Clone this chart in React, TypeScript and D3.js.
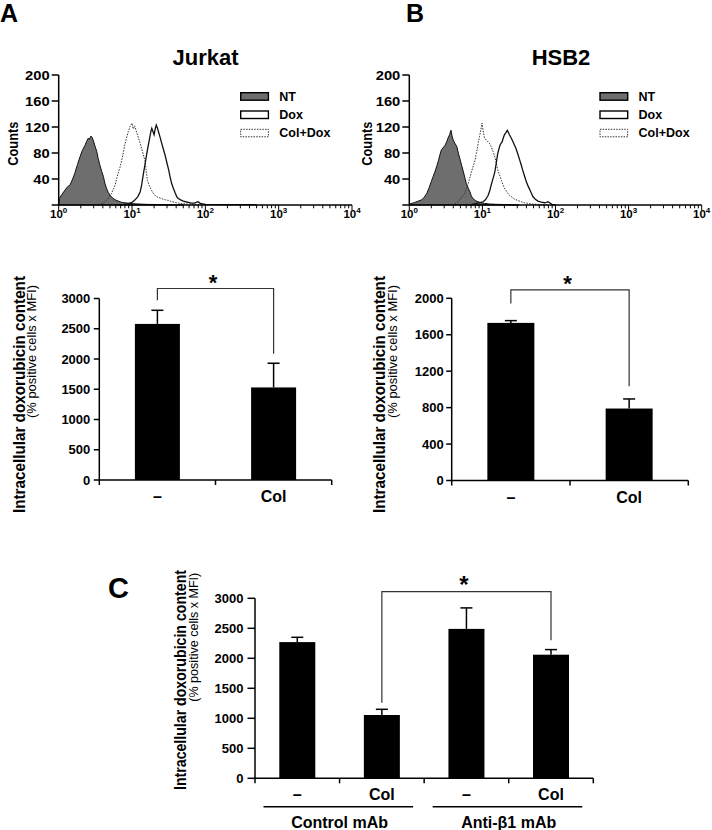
import React from "react";
import * as d3 from "d3";

const FONT = "'Liberation Sans', Arial, Helvetica, sans-serif";

type Pt = [number, number];

// ---------- Flow cytometry histograms: [fluorescence intensity, counts] ----------
const jurkatNT: Pt[] = [
  [1.0, 0], [1.02, 10], [1.1, 16], [1.22, 23], [1.32, 28], [1.43, 31], [1.55, 40], [1.66, 49],
  [1.8, 62], [1.95, 74], [2.1, 84], [2.29, 92], [2.4, 98], [2.54, 103], [2.62, 101],
  [2.75, 106], [2.85, 104], [2.95, 100], [3.1, 92], [3.31, 82], [3.45, 72], [3.63, 62],
  [3.85, 52], [4.07, 44], [4.25, 34], [4.47, 26], [4.75, 19], [5.01, 15], [5.4, 11],
  [5.89, 8], [6.5, 6], [7.24, 4], [8.5, 3], [10, 2], [12.5, 1.5], [15.8, 1], [31.6, 0.5], [50, 0],
];
const jurkatColDox: Pt[] = [
  [3.47, 0.5], [3.9, 2], [4.27, 5], [4.8, 11], [5.25, 18], [5.6, 25], [5.89, 31], [6.46, 49],
  [6.85, 58], [7.24, 69], [7.6, 80], [7.94, 92], [8.4, 103], [8.91, 113], [9.4, 121],
  [10, 126], [10.2, 120], [10.5, 117], [10.75, 122], [11.0, 120], [11.6, 111], [12.3, 103],
  [12.9, 95], [13.5, 87], [14.3, 77], [15.1, 67], [15.6, 52], [16.2, 38], [17.0, 31],
  [17.8, 26], [19.0, 20], [20.4, 15], [22.5, 12], [25.1, 10], [28.2, 8], [31.6, 7],
  [35.0, 5], [38.9, 4], [43.0, 3], [47.9, 2], [58.0, 1.5], [70.8, 1], [100, 0.5], [110, 0],
];
const jurkatDox: Pt[] = [
  [6.31, 0.5], [7.8, 1], [8.91, 2], [10.0, 4], [11.0, 8], [12.0, 13], [12.9, 20], [13.5, 30],
  [14.1, 44], [14.9, 60], [15.8, 77], [16.6, 91], [17.4, 103], [18.0, 112], [18.6, 118],
  [19.3, 113], [20.0, 108], [20.7, 117], [21.4, 123], [22.1, 119], [22.9, 113], [23.9, 106],
  [25.1, 97], [26.6, 87], [28.2, 77], [29.9, 65], [31.6, 54], [33.1, 43], [34.7, 33],
  [36.8, 25], [38.9, 18], [40.7, 13], [42.7, 10], [46.0, 8], [50.1, 6], [54.0, 5],
  [58.9, 4], [64.0, 3], [70.8, 3], [75.0, 4], [79.4, 5], [84.0, 3], [89.1, 2], [100, 1],
  [200, 0.5], [479, 0.5], [500, 0],
];

const hsb2NT: Pt[] = [
  [1.0, 0], [1.02, 1.5], [1.19, 4], [1.33, 6], [1.48, 8], [1.6, 12], [1.74, 18], [1.87, 27],
  [2.0, 36], [2.12, 44], [2.24, 51], [2.38, 60], [2.51, 69], [2.62, 77], [2.75, 85],
  [2.9, 88], [3.09, 92], [3.24, 97], [3.39, 103], [3.55, 108], [3.72, 115], [3.85, 106],
  [3.98, 100], [4.2, 95], [4.47, 90], [4.68, 80], [4.9, 72], [5.2, 61], [5.5, 51],
  [5.75, 42], [6.03, 33], [6.4, 26], [6.76, 20], [7.05, 14], [7.41, 10], [8.0, 7],
  [8.71, 5], [9.6, 3.5], [10.7, 2.5], [12.5, 1.5], [15.8, 1], [25.1, 0.5], [31.6, 0],
];
const hsb2ColDox: Pt[] = [
  [4.17, 1.5], [4.5, 4], [4.9, 8], [5.3, 13], [5.75, 18], [6.0, 24], [6.31, 31], [6.7, 41],
  [7.08, 51], [7.5, 60], [7.94, 69], [8.2, 78], [8.51, 87], [8.8, 96], [9.12, 105],
  [9.5, 115], [9.89, 126], [10.3, 112], [10.7, 103], [11.3, 100], [12.0, 97], [12.6, 94],
  [13.2, 90], [14.0, 82], [14.8, 74], [15.5, 64], [16.2, 54], [17.2, 46], [18.2, 38],
  [19.0, 32], [20.0, 26], [21.6, 20], [23.4, 15], [25.4, 12], [27.5, 9], [30.5, 7],
  [33.9, 5], [37.5, 3.5], [41.7, 2.5], [48.0, 1.5], [56.2, 1], [79.4, 0],
];
const hsb2Dox: Pt[] = [
  [7.08, 0.5], [8.32, 2.5], [9.2, 3.5], [10.2, 5], [11.0, 8], [12.0, 15], [12.6, 22],
  [13.2, 31], [14.0, 41], [14.8, 51], [15.5, 65], [16.2, 79], [16.8, 86], [17.4, 92],
  [18.0, 95], [18.6, 97], [19.3, 103], [20.0, 108], [20.9, 111], [21.9, 115], [22.6, 112],
  [23.4, 108], [24.8, 103], [26.3, 97], [27.5, 92], [28.8, 87], [30.6, 78], [32.4, 69],
  [33.9, 62], [35.5, 54], [37.6, 45], [39.8, 36], [42.2, 29], [44.7, 23], [46.8, 18],
  [49.0, 13], [53.0, 9], [57.5, 6], [64.0, 4.5], [70.8, 3.5], [75.0, 4], [79.4, 5],
  [84.0, 3], [89.1, 1], [100, 0],
];

const histYTicks = [0, 40, 80, 120, 160, 200];
const histXDecades = [1, 10, 100, 1000, 10000];
const histXExponents = ["0", "1", "2", "3", "4"];
const legendLabels = ["NT", "Dox", "Col+Dox"];

// ---------- Bar charts ----------
const abCategories = ["–", "Col"];
const jurkatBarValues = [2580, 1530];
const jurkatBarErrors = [225, 400];
const jurkatTicks = [0, 500, 1000, 1500, 2000, 2500, 3000];

const hsb2BarValues = [1730, 790];
const hsb2BarErrors = [25, 105];
const hsb2Ticks = [0, 400, 800, 1200, 1600, 2000];

const cCategories = ["–", "Col", "–", "Col"];
const cBarValues = [2270, 1055, 2490, 2060];
const cBarErrors = [80, 95, 350, 85];
const cTicks = [0, 500, 1000, 1500, 2000, 2500, 3000];
const cGroups = ["Control mAb", "Anti-β1 mAb"];

const yLabelMain = "Intracellular doxorubicin content";
const yLabelSub = "(% positive cells x MFI)";

type HistProps = {
  left: number; right: number; top: number; bottom: number;
  nt: Pt[]; dox: Pt[]; colDox: Pt[];
  title: string; titleX: number; letter: string; letterX: number;
  legendX: number; countsX: number;
};

function Histogram(p: HistProps) {
  const x = d3.scaleLog().domain([1, 10000]).range([p.left, p.right]);
  const y = d3.scaleLinear().domain([0, 200]).range([p.bottom, p.top]);
  const area = d3.area<Pt>().x((d) => x(d[0])).y0(p.bottom).y1((d) => y(d[1]));
  const line = d3.line<Pt>().x((d) => x(d[0])).y((d) => y(d[1]));
  const allTicks = x.ticks();
  const legendY = [92.7, 111, 129.3];
  return (
    <g fontFamily={FONT}>
      <text x={p.letterX} y={22} fontSize={25} fontWeight="bold">{p.letter}</text>
      <text x={p.titleX} y={65} fontSize={22} fontWeight="bold" textAnchor="middle">{p.title}</text>
      {/* curves */}
      <path d={area(p.nt) || ""} fill="#6e6e6e" stroke="#111" strokeWidth={1} />
      <path d={line(p.colDox) || ""} fill="none" stroke="#333" strokeWidth={1} strokeDasharray="1.5,1.3" />
      <path d={line(p.dox) || ""} fill="none" stroke="#111" strokeWidth={1.3} />
      {/* y axis */}
      <line x1={p.left} x2={p.left} y1={y(200)} y2={p.bottom} stroke="#000" strokeWidth={1.5} />
      {histYTicks.map((t) => (
        <g key={t}>
          <line x1={p.left - 7} x2={p.left} y1={y(t)} y2={y(t)} stroke="#000" strokeWidth={1.5} />
          {t > 0 && (
            <text x={p.left - 9} y={y(t)} dy="0.36em" textAnchor="end" fontSize={13} fontWeight="bold"
              textLength={String(t).length * 8.2} lengthAdjust="spacingAndGlyphs">{t}</text>
          )}
        </g>
      ))}
      {/* x axis */}
      <line x1={p.left} x2={p.right} y1={p.bottom} y2={p.bottom} stroke="#000" strokeWidth={1.5} />
      {allTicks.map((t, i) => {
        const major = histXDecades.some((d) => Math.abs(d - t) < 1e-9);
        return (
          <line key={i} x1={x(t)} x2={x(t)} y1={p.bottom} y2={p.bottom + (major ? 5.5 : 3.3)} stroke="#000" strokeWidth={1} />
        );
      })}
      {histXDecades.map((d, i) => (
        <text key={d} x={x(d)} y={218} textAnchor="middle" fontSize={11.5} fontWeight="bold">
          10<tspan fontSize={8} dy={-4.6}>{histXExponents[i]}</tspan>
        </text>
      ))}
      <text transform={`translate(${p.countsX},165.7) rotate(-90)`} fontSize={14} fontWeight="bold" textLength={44} lengthAdjust="spacingAndGlyphs">Counts</text>
      {/* legend */}
      {legendLabels.map((lab, i) => (
        <g key={lab}>
          <rect x={p.legendX} y={legendY[i]} width={27.7} height={7.5}
            fill={i === 0 ? "#6e6e6e" : "#fff"} stroke={i === 2 ? "#333" : "#000"}
            strokeWidth={i === 2 ? 1 : 1.4} strokeDasharray={i === 2 ? "1.5,1.2" : undefined} />
          <text x={p.legendX + 38.6} y={legendY[i] + 8} fontSize={12.5} fontWeight="bold">{lab}</text>
        </g>
      ))}
    </g>
  );
}

type BarProps = {
  labels: string[]; values: number[]; errors: number[]; ticks: number[]; yMax: number;
  left: number; right: number; yTop: number; yBottom: number; barWidth: number;
  tickLen: number; labelGap: number;
  bracket: { from: number; to: number; top: number; gaps: [number, number]; starSize: number };
  mainLabel: { x: number; start: number; len: number };
  subLabel: { x: number; start: number; len: number };
  groups?: string[];
};

function BarChart(p: BarProps) {
  const idx = p.labels.map((_, i) => String(i));
  const xb = d3.scaleBand<string>().domain(idx).range([p.left, p.right]).padding(0);
  const y = d3.scaleLinear().domain([0, p.yMax]).range([p.yBottom, p.yTop]);
  const cx = (i: number) => (xb(String(i)) as number) + xb.bandwidth() / 2;
  const boundaries = [p.left, ...idx.map((k) => (xb(k) as number) + xb.bandwidth())];
  const b = p.bracket;
  const bx1 = cx(b.from), bx2 = cx(b.to);
  const by = y(b.top);
  const leg1 = y(p.values[b.from] + p.errors[b.from]) - b.gaps[0];
  const leg2 = y(p.values[b.to] + p.errors[b.to]) - b.gaps[1];
  return (
    <g fontFamily={FONT}>
      {p.values.map((v, i) => (
        <g key={i}>
          <line x1={cx(i)} x2={cx(i)} y1={y(v)} y2={y(v + p.errors[i])} stroke="#000" strokeWidth={1.5} />
          <line x1={cx(i) - 6} x2={cx(i) + 6} y1={y(v + p.errors[i])} y2={y(v + p.errors[i])} stroke="#000" strokeWidth={1.5} />
          <rect x={cx(i) - p.barWidth / 2} y={y(v)} width={p.barWidth} height={p.yBottom - y(v)} fill="#000" />
        </g>
      ))}
      {/* y axis */}
      <line x1={p.left} x2={p.left} y1={y(p.yMax)} y2={p.yBottom} stroke="#000" strokeWidth={1.5} />
      {p.ticks.map((t) => (
        <g key={t}>
          <line x1={p.left - p.tickLen} x2={p.left} y1={y(t)} y2={y(t)} stroke="#000" strokeWidth={1.5} />
          <text x={p.left - p.labelGap} y={y(t)} dy="0.36em" textAnchor="end" fontSize={13} fontWeight="bold">{t}</text>
        </g>
      ))}
      {/* x axis */}
      <line x1={p.left} x2={p.right} y1={p.yBottom} y2={p.yBottom} stroke="#000" strokeWidth={1.5} />
      {boundaries.map((bx, i) => (
        <line key={i} x1={bx} x2={bx} y1={p.yBottom} y2={p.yBottom + 5} stroke="#000" strokeWidth={1.5} />
      ))}
      {p.labels.map((lab, i) => (
        <text key={i} x={cx(i)} y={p.yBottom + 22} textAnchor="middle" fontSize={16} fontWeight="bold">{lab}</text>
      ))}
      {p.groups && p.groups.map((g, gi) => {
        const n = p.labels.length / p.groups!.length;
        const gx1 = xb(String(gi * n)) as number;
        const gx2 = (xb(String(gi * n + n - 1)) as number) + xb.bandwidth();
        return (
          <g key={g}>
            <line x1={gx1 + 8.5} x2={gx2 - 11} y1={p.yBottom + 28.4} y2={p.yBottom + 28.4} stroke="#000" strokeWidth={1.5} />
            <text x={(gx1 + gx2) / 2} y={p.yBottom + 49.7} textAnchor="middle" fontSize={16} fontWeight="bold">{g}</text>
          </g>
        );
      })}
      {/* significance bracket */}
      <path d={`M${bx1},${leg1}V${by}H${bx2}V${leg2}`} fill="none" stroke="#333" strokeWidth={1.2} />
      <text x={(bx1 + bx2) / 2 - 2.5} y={by + 1} textAnchor="middle" fontSize={b.starSize} fontWeight="bold">*</text>
      {/* y labels */}
      <text transform={`translate(${p.mainLabel.x},${p.mainLabel.start}) rotate(-90)`} fontSize={16.5} fontWeight="bold"
        textLength={p.mainLabel.len} lengthAdjust="spacingAndGlyphs">{yLabelMain}</text>
      <text transform={`translate(${p.subLabel.x},${p.subLabel.start}) rotate(-90)`} fontSize={13.5}
        textLength={p.subLabel.len} lengthAdjust="spacingAndGlyphs">{yLabelSub}</text>
    </g>
  );
}

export default function App() {
  return (
    <svg width={712} height={830} viewBox="0 0 712 830"
      style={{ position: "absolute", left: 0, top: 0, background: "#fff" }}>
      <rect x={0} y={0} width={712} height={830} fill="#fff" />
      <Histogram left={58.7} right={352} top={75} bottom={205}
        nt={jurkatNT} dox={jurkatDox} colDox={jurkatColDox}
        title="Jurkat" titleX={205.5} letter="A" letterX={0} legendX={240.7} countsX={18.3} />
      <Histogram left={409.3} right={701.7} top={75} bottom={205}
        nt={hsb2NT} dox={hsb2Dox} colDox={hsb2ColDox}
        title="HSB2" titleX={561} letter="B" letterX={406} legendX={600} countsX={371.7} />
      <BarChart labels={abCategories} values={jurkatBarValues} errors={jurkatBarErrors}
        ticks={jurkatTicks} yMax={3000} left={99.3} right={331.7} yTop={298.5} yBottom={480}
        barWidth={45} tickLen={5.5} labelGap={9}
        bracket={{ from: 0, to: 1, top: 3165, gaps: [10, 9.4], starSize: 22 }}
        mainLabel={{ x: 25, start: 513, len: 237 }} subLabel={{ x: 35.5, start: 418, len: 133 }} />
      <BarChart labels={abCategories} values={hsb2BarValues} errors={hsb2BarErrors}
        ticks={hsb2Ticks} yMax={2000} left={451.7} right={688.3} yTop={298.3} yBottom={480.5}
        barWidth={47} tickLen={5.5} labelGap={8}
        bracket={{ from: 0, to: 1, top: 2093, gaps: [17, 12.7], starSize: 22 }}
        mainLabel={{ x: 385, start: 513, len: 237 }} subLabel={{ x: 396.5, start: 418, len: 133 }} />
      <text x={108} y={598} fontFamily={FONT} fontSize={29} fontWeight="bold">C</text>
      <BarChart labels={cCategories} values={cBarValues} errors={cBarErrors}
        ticks={cTicks} yMax={3000} left={255} right={593.3} yTop={598.3} yBottom={778.3}
        barWidth={36} tickLen={7.5} labelGap={11.5} groups={cGroups}
        bracket={{ from: 1, to: 3, top: 3110, gaps: [6.6, 9.4], starSize: 24 }}
        mainLabel={{ x: 185.7, start: 790, len: 220 }} subLabel={{ x: 198, start: 701.7, len: 129 }} />
    </svg>
  );
}
